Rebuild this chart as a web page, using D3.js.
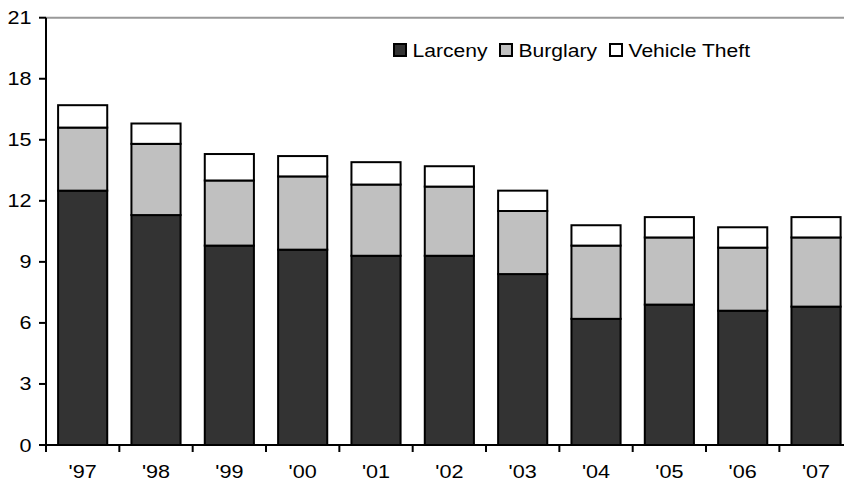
<!DOCTYPE html>
<html>
<head>
<meta charset="utf-8">
<script src="https://cdn.jsdelivr.net/npm/d3@7"></script>
<style>
  html, body { margin: 0; padding: 0; background: #fff; overflow: hidden; }
  svg { display: block; }
  text { font-family: "Liberation Sans", Arial, sans-serif; fill: #000; }
</style>
</head>
<body>
<svg id="chart" width="844" height="484"></svg>
<script>
const categories = ["'97", "'98", "'99", "'00", "'01", "'02", "'03", "'04", "'05", "'06", "'07"];
const larceny  = [12.5, 11.3, 9.8, 9.6, 9.3, 9.3, 8.4, 6.2, 6.9, 6.6, 6.8];
const burglary = [3.1, 3.5, 3.2, 3.6, 3.5, 3.4, 3.1, 3.6, 3.3, 3.1, 3.4];
const vehicleTheft = [1.1, 1.0, 1.3, 1.0, 1.1, 1.0, 1.0, 1.0, 1.0, 1.0, 1.0];
const seriesNames = ["Larceny", "Burglary", "Vehicle Theft"];
const seriesColors = ["#333333", "#c0c0c0", "#ffffff"];
const yTicks = [0, 3, 6, 9, 12, 15, 18, 21];

const svg = d3.select("#chart");
const plotLeft = 46, plotRight = 852.7, plotTop = 17.7, plotBottom = 445;

const x = d3.scaleBand().domain(categories).range([plotLeft, plotRight])
  .paddingInner(0.33).paddingOuter(0.165);
const y = d3.scaleLinear().domain([0, 21]).range([plotBottom, plotTop]);

const rows = categories.map((c, i) => ({
  cat: c, "Larceny": larceny[i], "Burglary": burglary[i], "Vehicle Theft": vehicleTheft[i]
}));
const stacked = d3.stack().keys(seriesNames)(rows);

// top border/grid line
svg.append("line")
  .attr("x1", plotLeft).attr("x2", 844)
  .attr("y1", y(21)).attr("y2", y(21))
  .attr("stroke", "#999").attr("stroke-width", 2);

// bars
const g = svg.append("g");
stacked.forEach((s, si) => {
  g.selectAll(null).data(s).enter().append("rect")
    .attr("x", d => x(d.data.cat))
    .attr("width", x.bandwidth())
    .attr("y", d => y(d[1]))
    .attr("height", d => y(d[0]) - y(d[1]))
    .attr("fill", seriesColors[si])
    .attr("stroke", "#000")
    .attr("stroke-width", 2);
});

const stretch = 1.2;

// y axis
const yAxis = svg.append("g");
yAxis.append("line").attr("x1", plotLeft).attr("x2", plotLeft)
  .attr("y1", plotTop).attr("y2", plotBottom).attr("stroke", "#000").attr("stroke-width", 2);
yTicks.forEach(t => {
  yAxis.append("line").attr("x1", plotLeft - 7).attr("x2", plotLeft)
    .attr("y1", y(t)).attr("y2", y(t)).attr("stroke", "#000").attr("stroke-width", 2);
  yAxis.append("text")
    .attr("transform", `translate(${31.5},${y(t) + 6.5}) scale(${stretch},1)`)
    .attr("text-anchor", "end")
    .attr("font-size", 18)
    .text(t);
});

// x axis
const xAxis = svg.append("g");
xAxis.append("line").attr("x1", plotLeft - 7).attr("x2", 844)
  .attr("y1", plotBottom).attr("y2", plotBottom).attr("stroke", "#000").attr("stroke-width", 2);
const step = x.step();
categories.forEach((c, i) => {
  const bx = x(c) - (step - x.bandwidth()) / 2;
  xAxis.append("line").attr("x1", bx).attr("x2", bx)
    .attr("y1", plotBottom).attr("y2", plotBottom + 7).attr("stroke", "#000").attr("stroke-width", 2);
  xAxis.append("text")
    .attr("transform", `translate(${x(c) + x.bandwidth() / 2},${477.5}) scale(${stretch},1)`)
    .attr("text-anchor", "middle")
    .attr("font-size", 18)
    .text(c);
});

// legend
const legendPos = [394, 500, 610];
const legend = svg.append("g");
seriesNames.forEach((n, i) => {
  legend.append("rect")
    .attr("x", legendPos[i]).attr("y", 44).attr("width", 12).attr("height", 12)
    .attr("fill", seriesColors[i]).attr("stroke", "#000").attr("stroke-width", 2);
  legend.append("text")
    .attr("transform", `translate(${legendPos[i] + 18.5},${57}) scale(1.14,1)`)
    .attr("font-size", 18.5)
    .text(n);
});
</script>
</body>
</html>
